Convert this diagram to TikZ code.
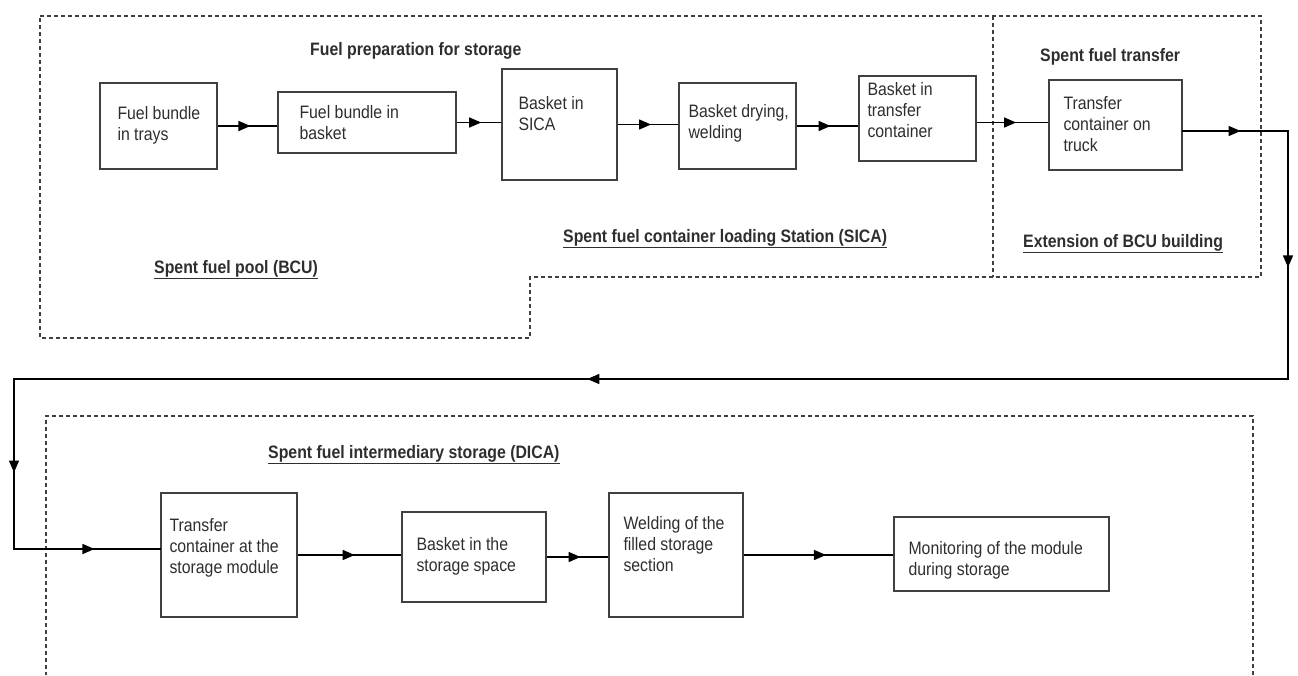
\documentclass[tikz,border=0pt]{standalone}
\usepackage{fontspec}
\setmainfont{Liberation Sans}[FakeStretch=0.88]
\usetikzlibrary{arrows.meta,decorations.markings,positioning}
\colorlet{frameGray}{black!75}
\colorlet{textGray}{black!82}

\begin{document}
\begin{tikzpicture}[
  x=1pt, y=-1pt,
  every node/.style={
    font=\fontsize{18}{21}\selectfont,
    text=textGray,
  },
  stage/.style={
    draw=frameGray,
    line width=1.4pt,
    inner sep=0pt,
  },
  stagetext/.style={
    anchor=north west,
    align=left,
    inner sep=0pt,
  },
  area/.style={
    draw=frameGray,
    line width=1.2pt,
    dash pattern=on 4pt off 3pt,
  },
  areatitle/.style={
    anchor=base west,
    inner sep=0pt,
    font=\fontsize{18}{21}\selectfont\bfseries,
  },
  flow/.style={
    draw=black,
    line width=1.4pt,
    postaction={decorate},
    decoration={markings,
      mark=at position 0.55 with {\arrow{Triangle[length=12pt,width=10pt]}}},
  },
]
\useasboundingbox (0,0) rectangle (1298,675);

% areas
\draw[area] (40,16) -- (1261,16) -- (1261,277) -- (530,277) -- (530,338) -- (40,338) -- cycle;
\draw[area] (993,16) -- (993,277);
\draw[area] (1253,675) -- (1253,416) -- (46,416) -- (46,675);

\node[areatitle] (prepTitle) at (310,55) {Fuel preparation for storage};
\node[areatitle] (transferTitle) at (1040,61) {Spent fuel transfer};
\node[areatitle] (poolLabel) at (154,273) {\underline{Spent fuel pool (BCU)}};
\node[areatitle] (sicaLabel) at (563,242) {\underline{Spent fuel container loading Station (SICA)}};
\node[areatitle] (extLabel) at (1023,247) {\underline{Extension of BCU building}};
\node[areatitle] (dicaLabel) at (268,458) {\underline{Spent fuel intermediary storage (DICA)}};

% top row
\node[stage, minimum width=117pt, minimum height=86pt] (trays) at (158.5,126) {};
\node[stagetext] (trays-t) at ([xshift=18pt,yshift=-24pt]trays.north west) {Fuel bundle\\in trays};
\node[stage, minimum width=178pt, minimum height=61pt] (basket) at (367,122.5) {};
\node[stagetext] (basket-t) at ([xshift=22pt,yshift=-14pt]basket.north west) {Fuel bundle in\\basket};
\node[stage, minimum width=115pt, minimum height=111pt] (sica) at (559.5,124.5) {};
\node[stagetext] (sica-t) at ([xshift=17pt,yshift=-28pt]sica.north west) {Basket in\\SICA};
\node[stage, minimum width=117pt, minimum height=86pt] (drying) at (737.5,126) {};
\node[stagetext] (drying-t) at ([xshift=10pt,yshift=-22pt]drying.north west) {Basket drying,\\welding};
\node[stage, minimum width=117pt, minimum height=85pt] (container) at (917.5,118.5) {};
\node[stagetext] (container-t) at ([xshift=9pt,yshift=-7pt]container.north west) {Basket in\\transfer\\container};
\node[stage, minimum width=133pt, minimum height=90pt] (truck) at (1115.5,125) {};
\node[stagetext] (truck-t) at ([xshift=15pt,yshift=-17pt]truck.north west) {Transfer\\container on\\truck};

% bottom row
\node[stage, minimum width=136pt, minimum height=124pt] (module) at (229,555) {};
\node[stagetext] (module-t) at ([xshift=9pt,yshift=-26pt]module.north west) {Transfer\\container at the\\storage module};
\node[stage, minimum width=144pt, minimum height=90pt] (space) at (474,557) {};
\node[stagetext] (space-t) at ([xshift=15pt,yshift=-26pt]space.north west) {Basket in the\\storage space};
\node[stage, minimum width=134pt, minimum height=124pt] (welding) at (676,555) {};
\node[stagetext] (welding-t) at ([xshift=15pt,yshift=-24pt]welding.north west) {Welding of the\\filled storage\\section};
\node[stage, minimum width=215pt, minimum height=74pt] (monitor) at (1001.5,554) {};
\node[stagetext] (monitor-t) at ([xshift=15pt,yshift=-25pt]monitor.north west) {Monitoring of the module\\during storage};

% connectors
\draw[flow] (trays.east) -- (trays.east -| basket.west);
\draw[flow] (basket.east) -- (basket.east -| sica.west);
\draw[flow] (sica.east) -- (sica.east -| drying.west);
\draw[flow] (drying.east) -- (drying.east -| container.west);
\draw[flow] ([yshift=-4pt]container.east) -- ([yshift=-4pt]container.east -| truck.west);

\coordinate (turnA) at (1288,131);
\coordinate (turnB) at (1288,379);
\coordinate (turnC) at (14,379);
\coordinate (turnD) at (14,549);
\begin{scope}[line cap=rect]
\draw[flow] (truck.east |- turnA) -- (turnA);
\draw[flow] (turnA) -- (turnB);
\draw[flow] (turnB) -- (turnC);
\draw[flow] (turnC) -- (turnD);
\draw[flow] (turnD) -- (turnD -| module.west);
\end{scope}

\draw[flow] (module.east) -- (module.east -| space.west);
\draw[flow] (space.east) -- (space.east -| welding.west);
\draw[flow] (welding.east) -- (welding.east -| monitor.west);
\end{tikzpicture}
\end{document}
